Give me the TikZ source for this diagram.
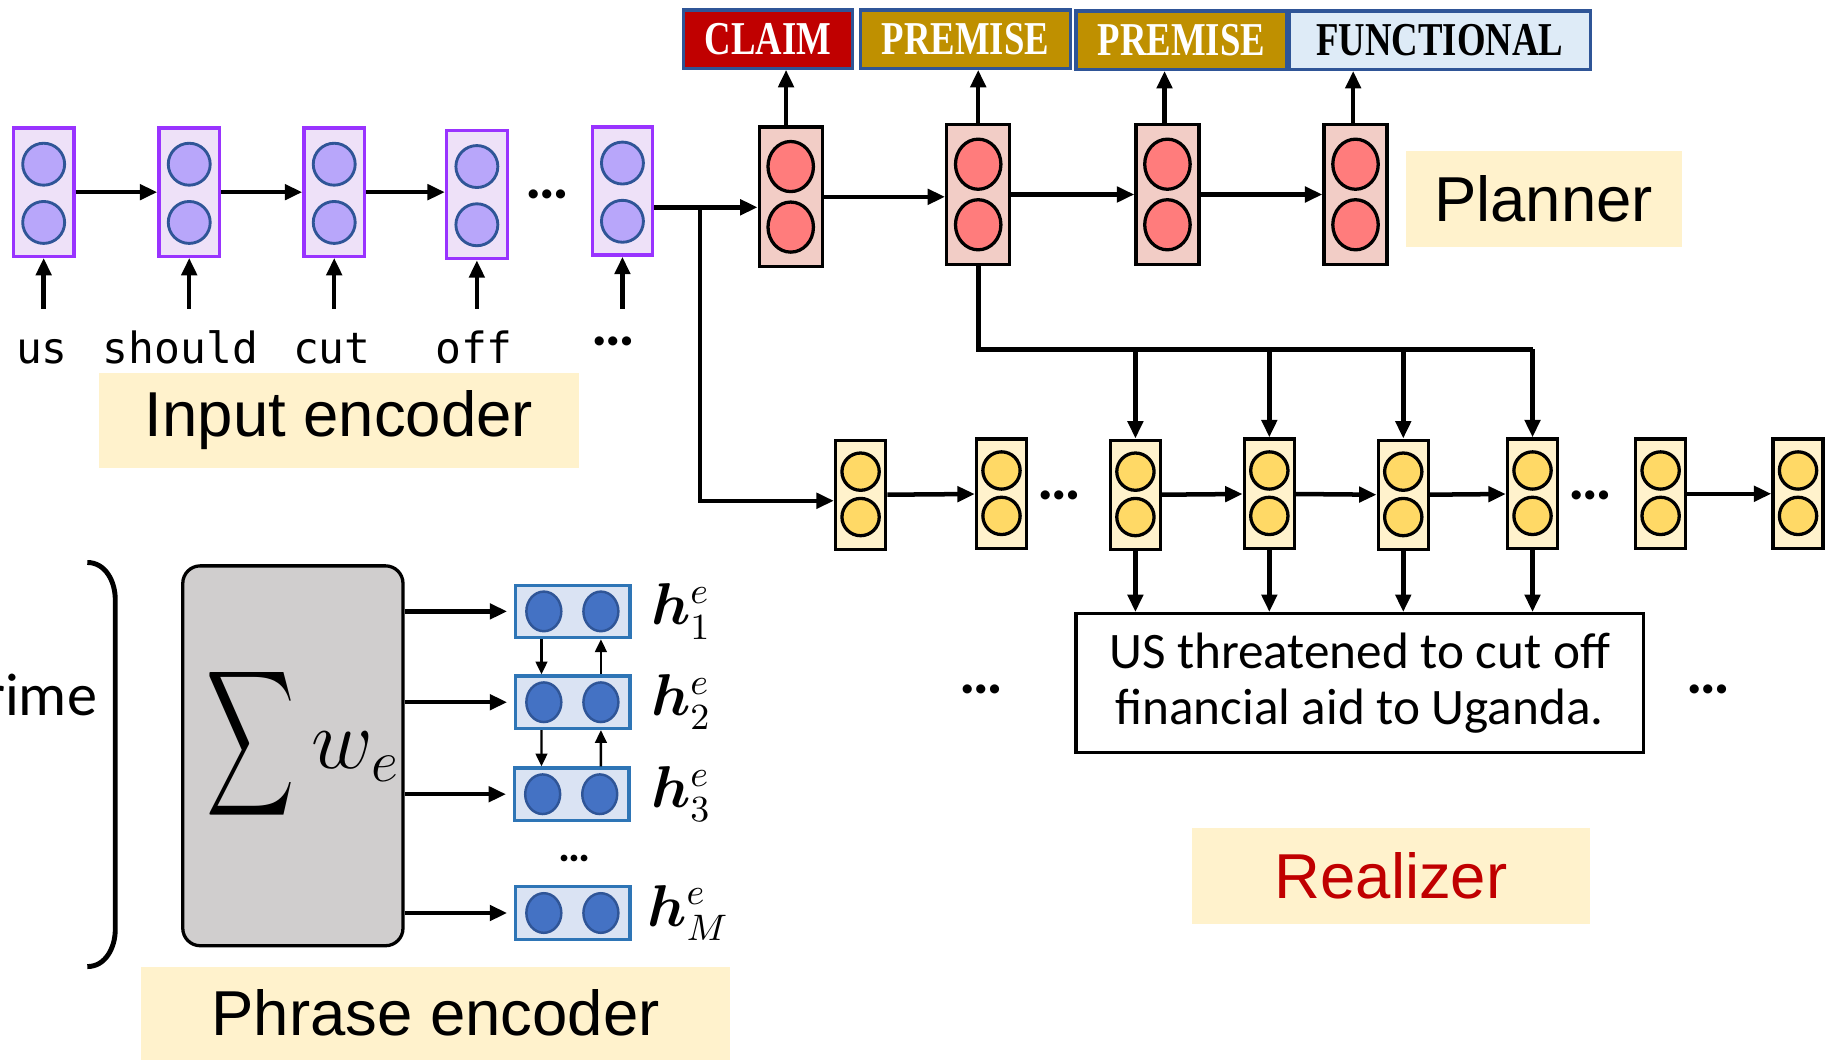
\documentclass[tikz,border=0pt]{standalone}
\usepackage{fontspec}
\usepackage{amsmath,bm,graphicx}
\setmainfont{Liberation Sans}
\newfontfamily\calibfont{Carlito}
\newfontfamily\codefont{DejaVu Sans Mono}
\newfontfamily\tagfont{Liberation Serif}
\usepackage{tikz}
\usetikzlibrary{arrows.meta,shapes.geometric,positioning,calc}

\definecolor{infill}{HTML}{EEE1F8}
\definecolor{inborder}{HTML}{9933FF}
\definecolor{indot}{HTML}{B8A6FA}
\definecolor{dotborder}{HTML}{2F5597}
\definecolor{planfill}{HTML}{F2CDC6}
\definecolor{plandot}{HTML}{FF7C7C}
\definecolor{realfill}{HTML}{FFF2CC}
\definecolor{realdot}{HTML}{FFD966}
\definecolor{labelfill}{HTML}{FFF2CC}
\definecolor{claimred}{HTML}{C00000}
\definecolor{premgold}{HTML}{BF9000}
\definecolor{funcblue}{HTML}{DEEBF7}
\definecolor{graybox}{HTML}{D0CECE}
\definecolor{phrfill}{HTML}{DAE3F3}
\definecolor{phrborder}{HTML}{2E75B6}
\definecolor{phrdot}{HTML}{4472C4}

\newcommand{\tagtext}[1]{\scalebox{0.78}[1]{\tagfont\bfseries\fontsize{11.5}{13}\selectfont #1}}

\tikzset{
  arr/.style={line width=1.1pt,-{Triangle[length=1.5mm,width=1.3mm]}},
  thinarr/.style={line width=0.6pt,-{Triangle[length=1.1mm,width=1mm]}},
  incell/.style={rectangle,draw=inborder,fill=infill,line width=0.8pt,minimum width=5.2mm,minimum height=11mm,inner sep=0pt},
  indotnode/.style={circle,draw=dotborder,fill=indot,line width=0.7pt,minimum size=3.6mm,inner sep=0pt},
  plancell/.style={rectangle,draw,fill=planfill,line width=0.8pt,minimum width=5.4mm,minimum height=12mm,inner sep=0pt},
  plandotnode/.style={ellipse,draw,fill=plandot,line width=0.8pt,minimum width=3.9mm,minimum height=4.3mm,inner sep=0pt},
  realcell/.style={rectangle,draw,fill=realfill,line width=0.8pt,minimum width=4.3mm,minimum height=9.4mm,inner sep=0pt},
  realdotnode/.style={circle,draw,fill=realdot,line width=0.8pt,minimum size=3.2mm,inner sep=0pt},
  phrcell/.style={rectangle,draw=phrborder,fill=phrfill,line width=0.8pt,minimum width=9.8mm,minimum height=4.5mm,inner sep=0pt},
  phrdotnode/.style={ellipse,draw=dotborder,fill=phrdot,line width=0.6pt,minimum width=3mm,minimum height=3.4mm,inner sep=0pt},
  tagbox/.style={rectangle,draw=dotborder,line width=0.8pt,minimum height=5mm,inner sep=0pt},
  partlabel/.style={rectangle,fill=labelfill,minimum height=8.2mm,inner sep=0pt,font=\fontsize{15.5}{18}\selectfont},
  word/.style={anchor=base,inner sep=0pt,font=\codefont\fontsize{10.5}{12}\selectfont},
  moredots/.style={inner sep=0pt,font=\calibfont\bfseries\fontsize{15}{16}\selectfont},
  hlabel/.style={inner sep=0pt,font=\fontsize{13.5}{15}\selectfont},
}

\begin{document}
\begin{tikzpicture}[x=0.01cm,y=-0.01cm]
\useasboundingbox (0,0) rectangle (1568,911);

% input encoder
\node (in1) [incell] at (37.5,165) {};
\node (in2) [incell] at (162.5,165) {};
\node (in3) [incell] at (287,165) {};
\node (in4) [incell] at (409.5,167) {};
\node (in5) [incell] at (534.5,164) {};
\foreach \c in {in1,in2,in3,in4,in5}{
  \node (\c-a) [indotnode] at ($(\c.center)+(0,-24)$) {};
  \node (\c-b) [indotnode] at ($(\c.center)+(0,26)$) {};
}
\node (indots) [moredots] at (470,167) {…};
\draw [arr] (in1) -- (in2);
\draw [arr] (in2) -- (in3);
\draw [arr] (in3.east) -- (in3.east -| in4.west);

\node (w1) [word] at (36,312) {us};
\node (w2) [word] at (155,312) {should};
\node (w3) [word] at (285,312) {cut};
\node (w4) [word] at (407,312) {off};
\node (w5) [moredots] at (527,293) {…};
\coordinate (wtop) at (0,265);
\foreach \c in {in1,in2,in3,in4,in5}
  \draw [arr] (wtop -| \c.south) -- (\c.south);

\node (inlabel) [partlabel,minimum width=41.2mm] at (291,361) {Input encoder};

% planner
\node (p1) [plancell] at (679,169) {};
\node (p2) [plancell] at (840,167) {};
\node (p3) [plancell] at (1002.5,167) {};
\node (p4) [plancell] at (1164,167) {};
\foreach \c in {p1,p2,p3,p4}{
  \node (\c-a) [plandotnode] at ($(\c.center)+(0,-26)$) {};
  \node (\c-b) [plandotnode] at ($(\c.center)+(0,26)$) {};
}
\node (claim) [tagbox,fill=claimred,text=white,minimum width=14.5mm] at (659.5,33.5) {\tagtext{CLAIM}};
\node (prem1) [tagbox,fill=premgold,text=white,minimum width=18mm] at (829,33.5) {\tagtext{PREMISE}};
\node (prem2) [tagbox,fill=premgold,text=white,minimum width=18.1mm] at (1014.5,34.5) {\tagtext{PREMISE}};
\node (func) [tagbox,fill=funcblue,minimum width=25.9mm] at (1236.5,34.5) {\tagtext{FUNCTIONAL}};
\draw [arr] ([xshift=-0.4mm]p1.north) -- ([xshift=-0.4mm]p1.north |- claim.south);
\draw [arr] (p2.north) -- (p2.north |- prem1.south);
\draw [arr] ([xshift=-0.25mm]p3.north) -- ([xshift=-0.25mm]p3.north |- prem2.south);
\draw [arr] ([xshift=-0.2mm]p4.north) -- ([xshift=-0.2mm]p4.north |- func.south);
\draw [arr] (p1.east) -- (p1.east -| p2.west);
\draw [arr] (p2) -- (p3);
\draw [arr] (p3) -- (p4);
\node (planlabel) [partlabel,minimum width=23.7mm] at (1325.5,171) {Planner};

% realizer
\node (r1) [realcell] at (739,425) {};
\node (r2) [realcell] at (860,424) {};
\node (r3) [realcell] at (975,425) {};
\node (r4) [realcell] at (1090,424) {};
\node (r5) [realcell] at (1205,425) {};
\node (r6) [realcell] at (1316,424) {};
\node (r7) [realcell] at (1426,424) {};
\node (r8) [realcell] at (1544,424) {};
\foreach \c in {r1,r2,r3,r4,r5,r6,r7,r8}{
  \node (\c-a) [realdotnode] at ($(\c.center)+(0,-20)$) {};
  \node (\c-b) [realdotnode] at ($(\c.center)+(0,19)$) {};
}
\node (rdots1) [moredots] at (910,425) {…};
\node (rdots2) [moredots] at (1366,425) {…};
\draw [arr] (r1) -- (r2);
\draw [arr] (r3) -- (r4);
\draw [arr] (r4) -- (r5);
\draw [arr] (r5) -- (r6);
\draw [arr] (r7) -- (r8);

\coordinate (split) at (601,178);
\draw [arr] (split -| in5.east) -- (split -| p1.west);
\draw [arr] (split) |- ([yshift=-0.5mm]r1.west);

\coordinate (bus) at (840,300);
\draw [line width=1.3pt] (p2.south) -- (bus) -- (bus -| r6);
\foreach \c in {r3,r4,r5,r6}
  \draw [arr] (bus -| \c) -- (\c.north);

\node (sent) [rectangle,draw,line width=0.8pt,minimum width=48.7mm,minimum height=11.9mm,align=center,
  font=\calibfont\fontsize{12.5}{13.8}\selectfont] at (1167.5,586.5)
  {US threatened to cut off\\financial aid to Uganda.};
\foreach \c in {r3,r4,r5,r6}
  \draw [arr] (\c.south) -- (\c.south |- sent.north);
\node (sdots1) [moredots] at (843,592) {…};
\node (sdots2) [moredots] at (1467,592) {…};
\node (reallabel) [partlabel,minimum width=34.1mm,text=claimred] at (1194.5,752) {Realizer};

% phrase encoder
\node (rime) [anchor=base east,inner sep=0pt,font=\calibfont\fontsize{14.7}{16}\selectfont] at (84,614) {rime};
\draw [line width=1.2pt] (75,483) to[out=0,in=90] (99,515) -- (99,798) to[out=-90,in=0] (75,830);

\node (sumbox) [rectangle,rounded corners=1.5mm,draw,fill=graybox,line width=0.8pt,minimum width=18.9mm,minimum height=32.6mm] at (251.5,649) {};
\node (sumsign) [inner sep=0pt,font=\fontsize{26}{30}\selectfont] at (215,639) {\scalebox{0.6}[1]{$\displaystyle\sum$}};
\node (sumw) [inner sep=0pt,anchor=base west,font=\fontsize{21}{24}\selectfont] at (267,660) {$w_e$};

\node (b1) [phrcell] at (492,525) {};
\node (b2) [phrcell] at (492,603) {};
\node (b3) [phrcell] at (491,682) {};
\node (bm) [phrcell] at (492,784) {};
\foreach \c in {b1,b2,b3,bm}{
  \node (\c-a) [phrdotnode] at ($(\c.center)+(-25,0)$) {};
  \node (\c-b) [phrdotnode] at ($(\c.center)+(24,0)$) {};
}
\foreach \c in {b1,b2,b3,bm}
  \draw [arr,shorten >=0.6mm] (\c -| sumbox.east) -- (\c.west);
\draw [thinarr] ([xshift=-2.7mm]b1.south) -- ([xshift=-2.7mm]b2.north);
\draw [thinarr] ([xshift=2.4mm]b2.north) -- ([xshift=2.4mm]b1.south);
\draw [thinarr] ([xshift=-2.7mm]b2.south) -- ([xshift=-2.6mm]b3.north);
\draw [thinarr] ([xshift=2.5mm]b3.north) -- ([xshift=2.4mm]b2.south);
\node (bdots) [inner sep=0pt,font=\calibfont\bfseries\fontsize{11}{12}\selectfont] at (493,737) {…};

\node (h1) [hlabel] at (585,525) {$\bm{h}^{e}_{1}$};
\node (h2) [hlabel] at (585,603) {$\bm{h}^{e}_{2}$};
\node (h3) [hlabel] at (585,682) {$\bm{h}^{e}_{3}$};
\node (hm) [hlabel] at (591,784) {$\bm{h}^{e}_{M}$};

\node (phrlabel) [partlabel,minimum width=50.6mm,minimum height=8mm] at (374,870) {Phrase encoder};
\end{tikzpicture}
\end{document}
